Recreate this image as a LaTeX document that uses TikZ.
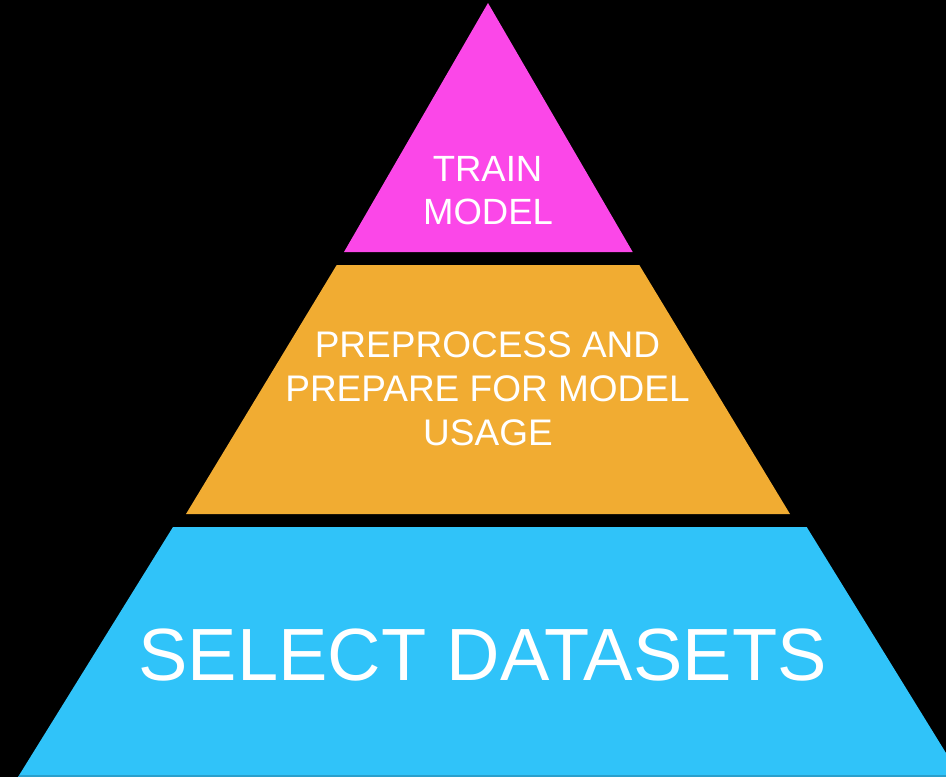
\documentclass[tikz,border=0pt]{standalone}
\usepackage{fontspec}
\setmainfont{Liberation Sans}
\definecolor{pinkT}{HTML}{FB47E8}
\definecolor{orangeT}{HTML}{F1AC32}
\definecolor{blueT}{HTML}{30C3F9}
\definecolor{blueEdge}{HTML}{2A9FCC}
\tikzset{
  lbl/.style={inner sep=0pt, anchor=base, text=white},
  small/.style={lbl, font=\fontsize{36.5}{43}\selectfont},
  mid/.style={lbl, font=\fontsize{37}{44}\selectfont},
  big/.style={lbl, font=\fontsize{74}{80}\selectfont},
}
\begin{document}
\begin{tikzpicture}[x=1pt,y=-1pt]
\fill[black] (0,0) rectangle (946,777);
\useasboundingbox (0,0) rectangle (946,777);
% tiers
\fill[pinkT] (488,3) -- (632.7,252) -- (344,252) -- cycle;
\fill[orangeT] (336.7,265) -- (639.3,265) -- (790,514) -- (186,514) -- cycle;
\fill[blueT] (173,527) -- (806.7,527) -- (946,753) -- (946,777) -- (18,777) -- cycle;
\draw[blueEdge, line width=1.5pt] (19,776.2) -- (946,776.2);
% labels
\node[small] (train) at (487.5,181) {TRAIN};
\node[small] (model) at (488,224) {MODEL};
\node[mid] (pre1) at (487.5,357) {PREPROCESS AND};
\node[mid] (pre2) at (487.5,401) {PREPARE FOR MODEL};
\node[mid] (pre3) at (488,445) {USAGE};
\node[big] (sel) at (482.5,680) {SELECT DATASETS};
\end{tikzpicture}
\end{document}
